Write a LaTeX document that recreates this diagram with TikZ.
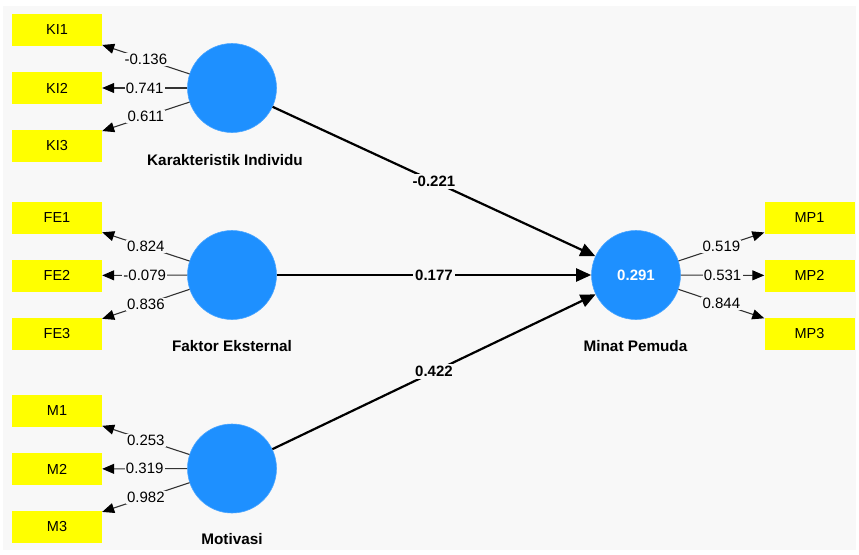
\documentclass[tikz,border=0pt]{standalone}
\usepackage{fontspec}
\setmainfont{Liberation Sans}
\usetikzlibrary{arrows.meta}
\definecolor{bg}{HTML}{F8F8F8}
\definecolor{lvblue}{RGB}{30,144,255}
\definecolor{boxyellow}{HTML}{FFFF00}
\tikzset{
  lv/.style={circle, fill=lvblue, draw=lvblue!80!white, line width=0.6pt, minimum size=89pt, inner sep=0pt, text=white, font=\bfseries\fontsize{15}{17}\selectfont},
  ind/.style={rectangle, fill=boxyellow, minimum width=90pt, minimum height=32pt, inner sep=0pt, font=\fontsize{14.5}{16}\selectfont},
  lvname/.style={font=\bfseries\fontsize{15.3}{17}\selectfont, inner sep=0pt},
  loadline/.style={draw=black!80, line width=1.1pt, -{Triangle[length=12pt,width=10pt,fill=black,color=black]}},
  loadlab/.style={fill=bg, inner sep=1.2pt, font=\fontsize{15}{17}\selectfont, midway},
  pathline/.style={draw=black, line width=2.2pt, -{Triangle[length=15pt,width=13pt]}},
  pathlab/.style={fill=bg, inner sep=2pt, font=\bfseries\fontsize{15}{17}\selectfont, midway}
}
\begin{document}
\begin{tikzpicture}[x=1pt,y=-1pt]
\useasboundingbox (0,0) rectangle (859,554);
\fill[bg] (3,6) rectangle (856,550);
% latent variables
\node[lv] (KI) at (232,88) {};
\node[lv] (FE) at (232,275) {};
\node[lv] (MO) at (232,468.5) {};
\node[lv] (MP) at (636,275) {0.291};
% names
\node[lvname] (nKI) at (225,160) {Karakteristik Individu};
\node[lvname] (nFE) at (232,346) {Faktor Eksternal};
\node[lvname] (nMO) at (232,539) {Motivasi};
\node[lvname] (nMP) at (635.5,346) {Minat Pemuda};
% indicators
\node[ind] (KI1) at (57,30) {KI1};
\node[ind] (KI2) at (57,88) {KI2};
\node[ind] (KI3) at (57,146) {KI3};
\node[ind] (FE1) at (57,217.5) {FE1};
\node[ind] (FE2) at (57,275.5) {FE2};
\node[ind] (FE3) at (57,334) {FE3};
\node[ind] (M1) at (57,411) {M1};
\node[ind] (M2) at (57,469) {M2};
\node[ind] (M3) at (57,527) {M3};
\node[ind] (MP1) at (809.5,217.5) {MP1};
\node[ind] (MP2) at (809.5,275.5) {MP2};
\node[ind] (MP3) at (809.5,333.5) {MP3};
% loadings
\draw[loadline] (KI) -- node[loadlab] {-0.136} (KI1);
\draw[loadline] (KI) -- node[loadlab] {0.741} (KI2);
\draw[loadline] (KI) -- node[loadlab] {0.611} (KI3);
\draw[loadline] (FE) -- node[loadlab] {0.824} (FE1);
\draw[loadline] (FE) -- node[loadlab] {-0.079} (FE2);
\draw[loadline] (FE) -- node[loadlab] {0.836} (FE3);
\draw[loadline] (MO) -- node[loadlab] {0.253} (M1);
\draw[loadline] (MO) -- node[loadlab] {0.319} (M2);
\draw[loadline] (MO) -- node[loadlab] {0.982} (M3);
\draw[loadline] (MP) -- node[loadlab] {0.519} (MP1);
\draw[loadline] (MP) -- node[loadlab] {0.531} (MP2);
\draw[loadline] (MP) -- node[loadlab] {0.844} (MP3);
% structural paths
\draw[pathline] (KI) -- node[pathlab] {-0.221} (MP);
\draw[pathline] (FE) -- node[pathlab] {0.177} (MP);
\draw[pathline] (MO) -- node[pathlab] {0.422} (MP);
\end{tikzpicture}
\end{document}
